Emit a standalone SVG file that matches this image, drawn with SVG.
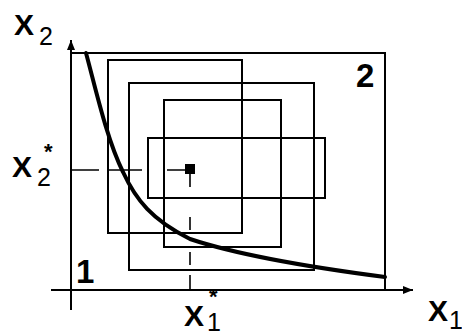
<svg xmlns="http://www.w3.org/2000/svg" width="462" height="335" viewBox="0 0 462 335">
<style>
.ax{stroke:#000;stroke-width:2;fill:none}
.r{stroke:#000;stroke-width:2;fill:none}
.d{stroke:#000;stroke-width:1.6;fill:none}
.cv{stroke:#000;stroke-width:4;fill:none;stroke-linecap:round}
.big{font-family:"Liberation Sans",Arial,sans-serif;font-size:30px;font-weight:bold;fill:#000}
.sub{font-size:25px;font-weight:normal}
.num{font-family:"Liberation Sans",Arial,sans-serif;font-size:33px;font-weight:bold;fill:#000}
.st{font-size:22px;font-weight:bold}
</style>
<defs>
<marker id="ah" viewBox="0 0 10 10" refX="10" refY="5" markerWidth="10" markerHeight="10" markerUnits="userSpaceOnUse" orient="auto">
<path d="M0,1 L10,5 L0,9 Z" fill="#000"/>
</marker>
</defs>
<rect width="462" height="335" fill="#fff"/>
<g id="axes">
<line class="ax" x1="71" y1="310" x2="71" y2="40" marker-end="url(#ah)"/>
<line class="ax" x1="51" y1="290" x2="413" y2="290" marker-end="url(#ah)"/>
</g>
<g id="rects">
<rect id="region2" class="r" x="71" y="53" width="314" height="237"/>
<rect id="rectA" class="r" x="108" y="60" width="134" height="173"/>
<rect id="rectB" class="r" x="129" y="83" width="185" height="187"/>
<rect id="rectC" class="r" x="164" y="100" width="117" height="147"/>
<rect id="rectD" class="r" x="148" y="138" width="177" height="60"/>
</g>
<g id="connectors">
<path class="d" d="M71,170 H99 M108,170 H142 M167,170 H186"/>
<path class="d" d="M190,170 V187 M190,217 V230 M190,252 V265 M190,275 V290"/>
<path class="cv" d="M86,53 C96,90 107,140 123,172 C136,200 152,220 190,239 C235,254 300,266 385,277"/>
</g>
<g id="point">
<rect x="185" y="164" width="10" height="10" fill="#000"/>
</g>
<g id="labels">
<text class="big" x="14" y="35">X<tspan class="sub" x="39" y="45">2</tspan></text>
<text class="big" x="12" y="177">X<tspan class="sub" x="37" y="186">2</tspan><tspan class="st" x="44" y="159">*</tspan></text>
<text class="big" x="184" y="326">X<tspan class="sub" x="207" y="331">1</tspan><tspan class="st" x="209" y="304">*</tspan></text>
<text class="big" x="428" y="321">X<tspan class="sub" x="449" y="329" font-size="21">1</tspan></text>
<text class="num" x="76" y="283">1</text>
<text class="num" x="356" y="87">2</text>
</g>
</svg>
